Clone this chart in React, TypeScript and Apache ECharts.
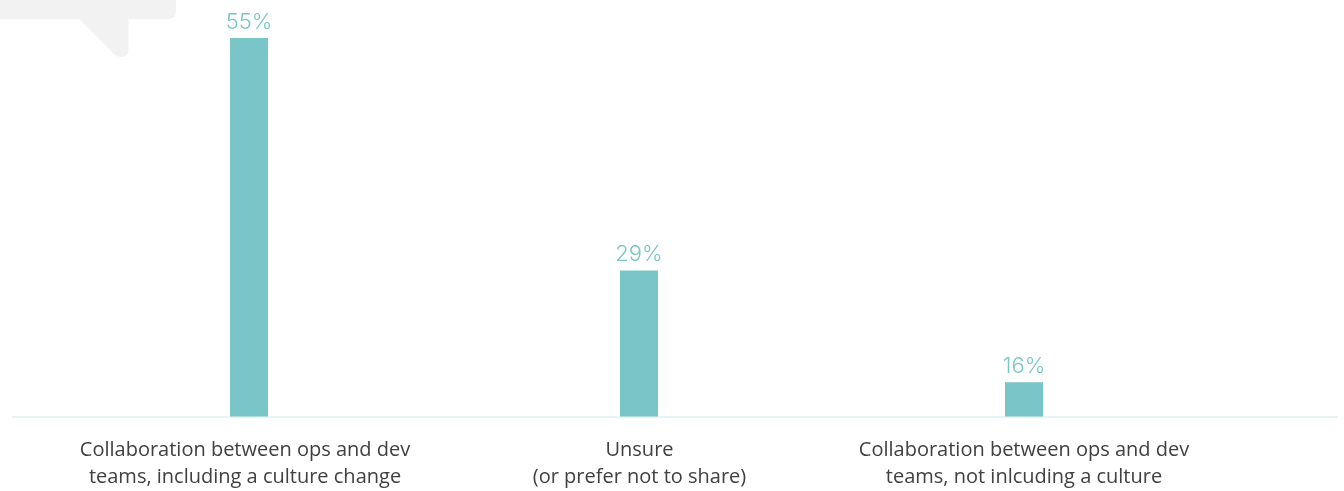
import React, { useEffect, useRef } from "react";
import * as echarts from "echarts";

const categories = [
  "Collaboration between ops and dev\nteams, including a culture change",
  "Unsure\n(or prefer not to share)",
  "Collaboration between ops and dev\nteams, not inlcuding a culture",
];
const values = [55, 28.6, 15.9];

const bubblePath =
  "M-10 -10 L176 -10 L176 11 Q176 19 168 19 L128.5 19 L128.5 50 Q128.5 57 121 57 Q117 57 114 54 L79 19 L-10 19 Z";
echarts.graphic.registerShape("bubble", (echarts.graphic as any).extendPath(bubblePath, {}));

const labelPadding = [
  [0, 8, 0, 0],
  [0, 0, 0, 6],
  [0, 0, 0, 0],
];

const barStyle = {
  type: "bar",
  barWidth: 38,
  z: 3,
  itemStyle: { color: "#7ac5c7" },
  label: {
    show: true,
    position: "top",
    distance: 6,
    color: "#7ac5c7",
    fontFamily: "Inter",
    fontWeight: 300,
    fontSize: 22,
    formatter: (p: any) => `${Math.round(p.value)}%`,
  },
};

export default function App() {
  const ref = useRef<HTMLDivElement>(null);
  useEffect(() => {
    const chart = echarts.init(ref.current!, undefined, { renderer: "svg" });
    chart.setOption({
      animation: false,
      grid: [
        { left: 55.25, width: 1162.5, top: 38, height: 378.5 },
        { left: 57.75, width: 1162.5, top: 38, height: 378.5 },
      ],
      graphic: [
        { type: "bubble", x: 0, y: 0, silent: true, style: { fill: "#f2f2f2" } },
        {
          type: "line",
          shape: { x1: 12, y1: 417, x2: 1338, y2: 417 },
          style: { stroke: "#e6f4f4", lineWidth: 2 },
          z: 1,
        },
      ],
      xAxis: [
        {
          type: "category",
          gridIndex: 0,
          data: categories.map((value, i) => ({ value, textStyle: { padding: labelPadding[i] } })),
          axisLine: { show: false },
          axisTick: { show: false },
          axisLabel: {
            interval: 0,
            margin: 18,
            color: "#404040",
            fontFamily: "Open Sans",
            fontSize: 20,
            lineHeight: 27,
          },
        },
        { type: "category", gridIndex: 1, data: categories, show: false },
      ],
      yAxis: [
        { type: "value", gridIndex: 0, min: 12, max: 55, show: false },
        { type: "value", gridIndex: 1, min: 12, max: 55, show: false },
      ],
      series: [
        {
          ...barStyle,
          xAxisIndex: 0,
          yAxisIndex: 0,
          data: values.map((v, i) => (i === 1 ? null : v)),
        },
        {
          ...barStyle,
          xAxisIndex: 1,
          yAxisIndex: 1,
          data: values.map((v, i) => (i === 1 ? v : null)),
        },
      ],
    });
    return () => chart.dispose();
  }, []);
  return <div ref={ref} style={{ position: "fixed", left: 0, top: 0, width: 1344, height: 491 }} />;
}
